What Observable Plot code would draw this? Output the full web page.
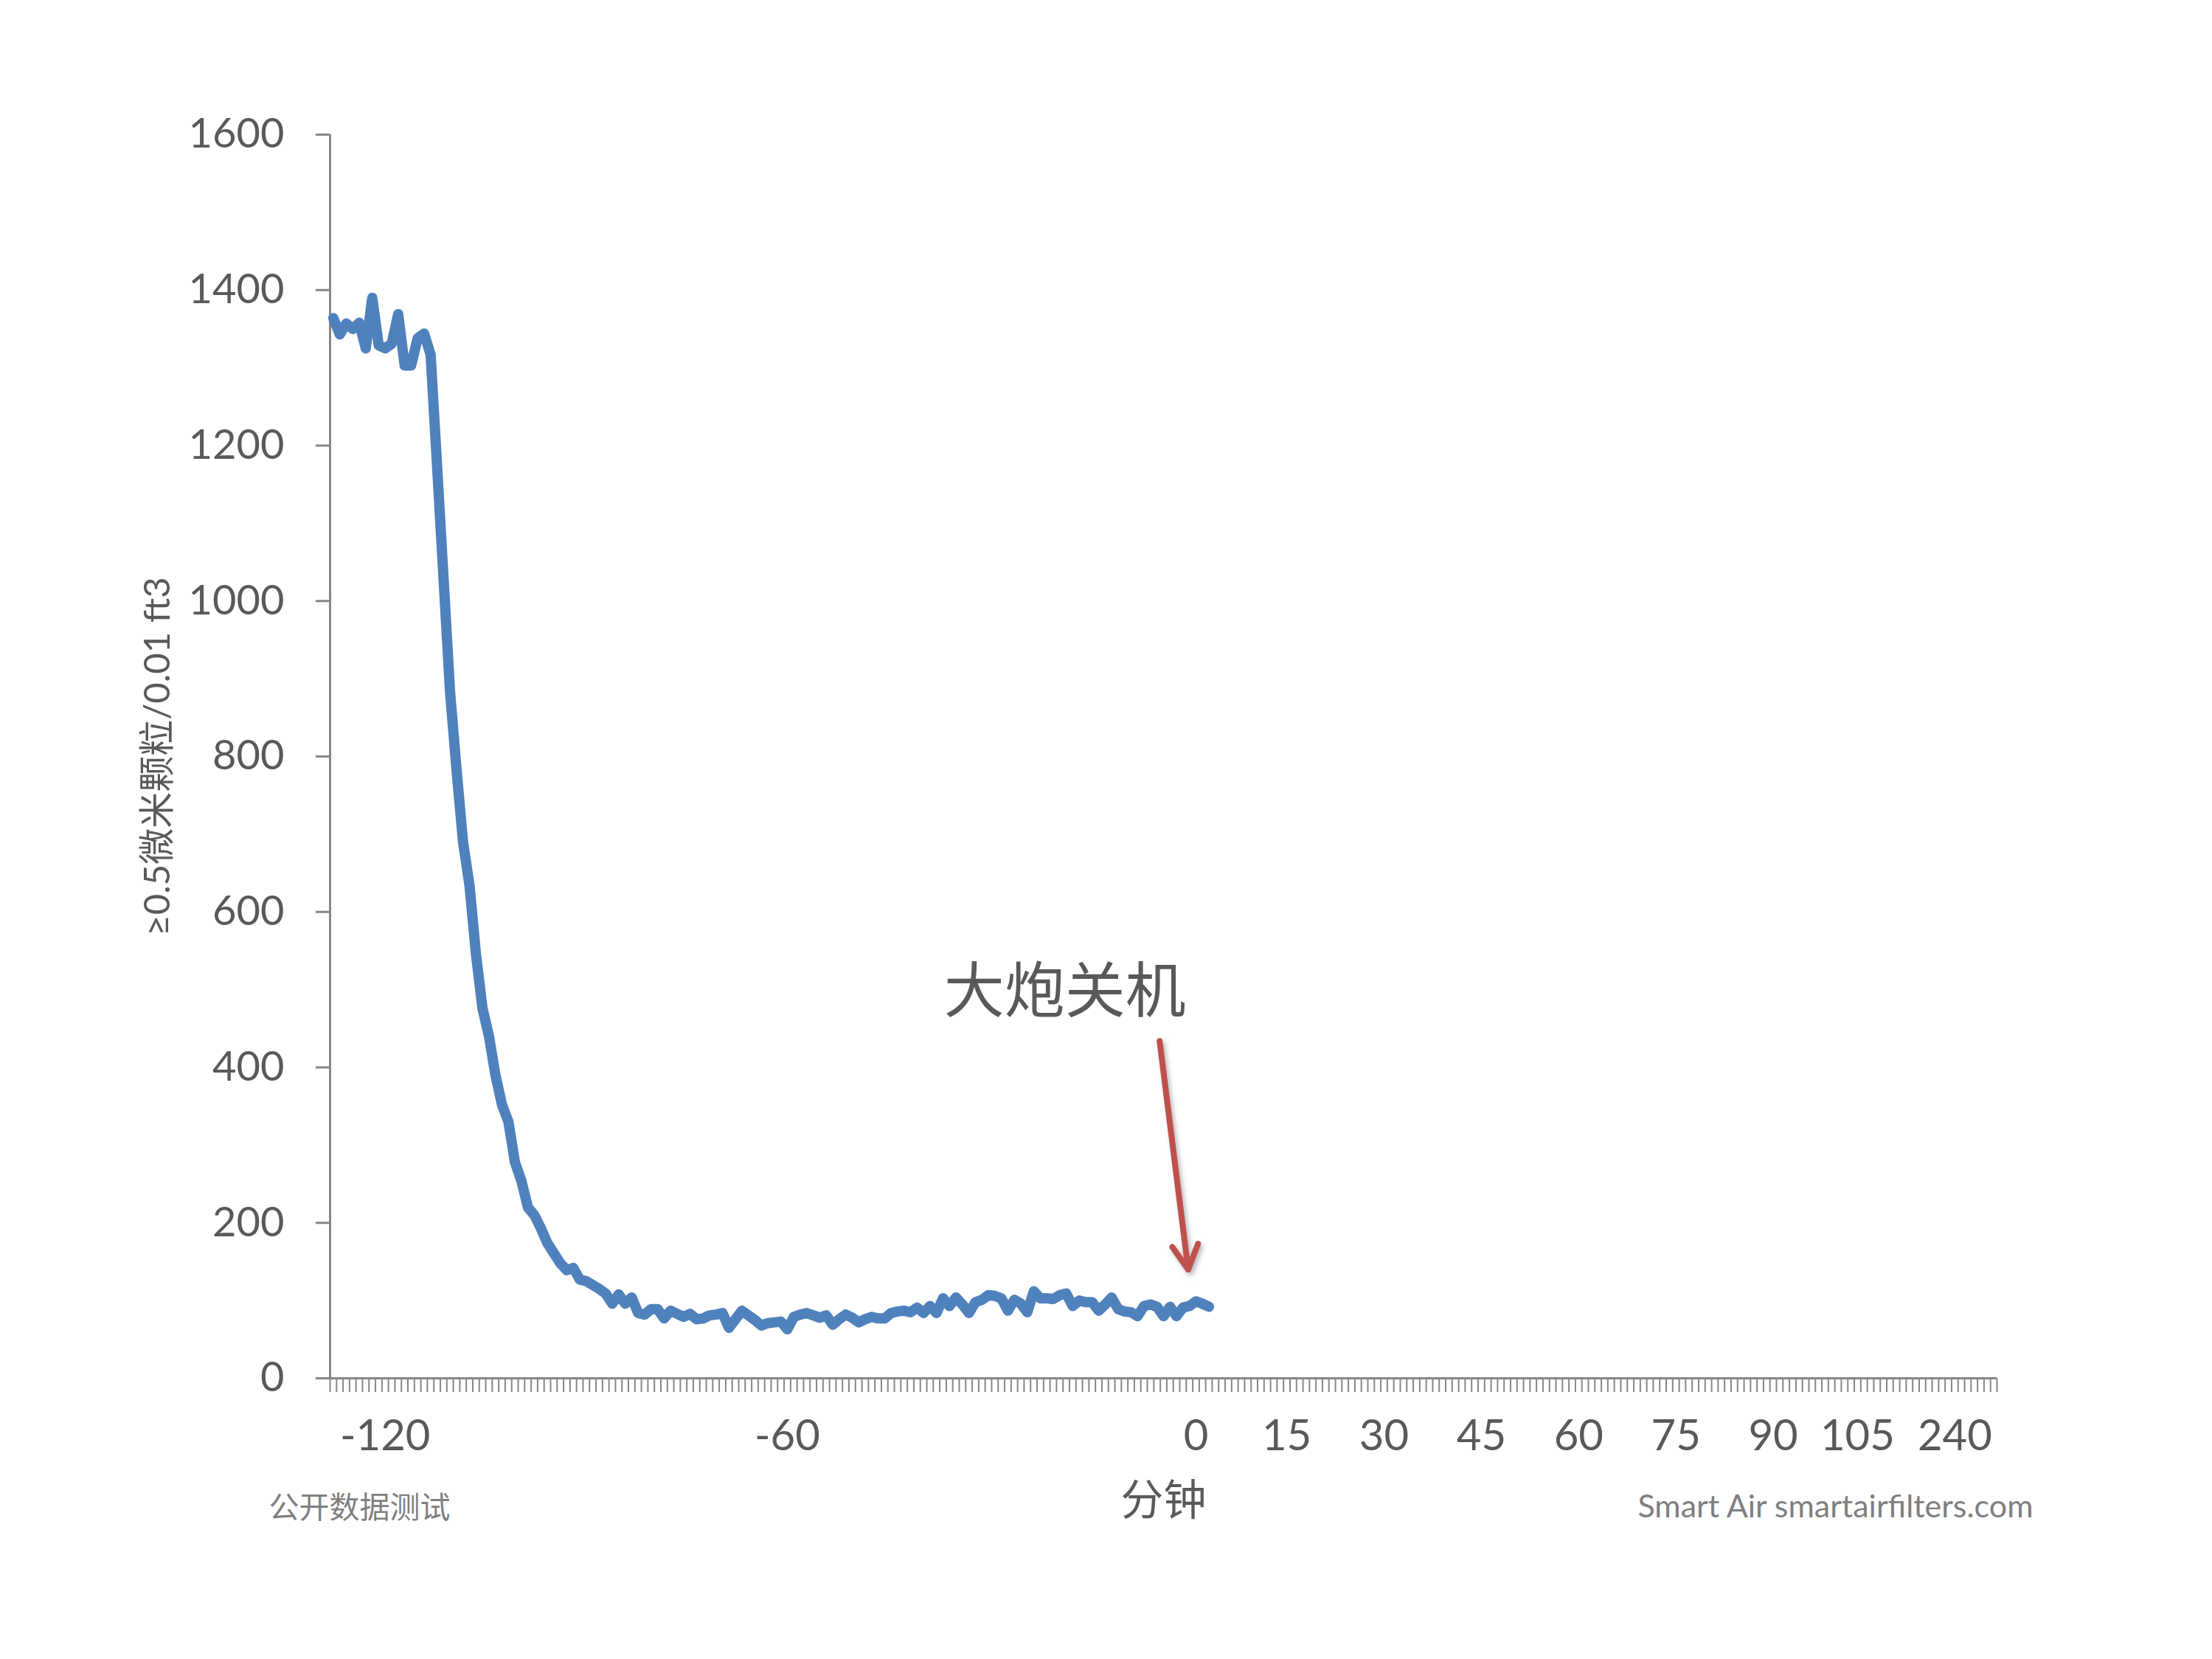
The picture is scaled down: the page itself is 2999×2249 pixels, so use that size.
<!DOCTYPE html>
<html>
<head>
<meta charset="utf-8">
<script src="https://cdn.jsdelivr.net/npm/d3@7"></script>
<script src="https://cdn.jsdelivr.net/npm/@observablehq/plot@0.6"></script>
<style>
html, body { margin: 0; padding: 0; background: #ffffff; overflow: hidden; }
#chart { width: 2999px; height: 2249px; }
</style>
</head>
<body>
<div id="chart"></div>
<script>
// ≥0.5 µm particle counts, one value per category
const counts = [
  1364, 1343, 1357, 1350, 1358, 1325, 1390, 1329, 1325, 1331,
  1369, 1303, 1303, 1338, 1344, 1317, 1174, 1028, 883, 783,
  690, 634, 545, 476, 440, 390, 352, 330, 278, 254,
  220, 210, 193, 174, 161, 148, 139, 142, 127, 125,
  120, 115, 109, 96, 108, 96, 104, 84, 82, 89,
  89, 77, 87, 83, 79, 83, 76, 77, 81, 82,
  84, 65, 76, 87, 81, 75, 68, 71, 72, 73,
  63, 79, 82, 84, 81, 78, 81, 69, 76, 82,
  78, 72, 76, 79, 77, 77, 84, 86, 87, 85,
  91, 84, 93, 84, 103, 93, 104, 95, 84, 98,
  101, 107, 106, 103, 87, 101, 96, 85, 112, 103,
  103, 102, 107, 109, 93, 100, 98, 98, 87, 95,
  104, 89, 86, 85, 80, 93, 95, 92, 80, 92,
  80, 91, 93, 99, 96, 92
];

// category axis: number of categories and which ones carry a label
const categoryCount = 257;
const tickLabelIndex = [8, 70, 133, 147, 162, 177, 192, 207, 222, 235, 250];
const tickLabelText = ["-120", "-60", "0", "15", "30", "45", "60", "75", "90", "105", "240"];

// value axis
const yTicks = [0, 200, 400, 600, 800, 1000, 1200, 1400, 1600];

// texts
const yLabel = "≥0.5微米颗粒/0.01 ft3";
const xLabel = "分钟";
const noteText = "大炮关机";
const sourceLeft = "公开数据测试";
const sourceRight = "Smart Air smartairfilters.com";

// annotation anchors, in data units (category position, count)
const noteAt = [113.3, 496];
const arrowFrom = [127.9, 434];
const arrowTo = [132.3, 140];

const series = counts.map((v, i) => ({cat: i + 0.5, count: v}));
const labelMap = new Map(tickLabelIndex.map((k, j) => [k + 0.5, tickLabelText[j]]));

const font = "Lato, 'Noto Sans CJK SC', 'Noto Sans', sans-serif";
const cjk = "'Noto Sans CJK SC', sans-serif";
const axisGray = "#868686";
const textGray = "#595959";
const lightGray = "#7f7f7f";

const chart = Plot.plot({
  width: 2999,
  height: 2249,
  marginLeft: 447,
  marginRight: 292,
  marginTop: 182,
  marginBottom: 381,
  style: {fontFamily: font, background: "#ffffff", overflow: "visible"},
  x: {type: "linear", domain: [0, categoryCount], axis: null},
  y: {type: "linear", domain: [0, 1600], axis: null},
  marks: [
    Plot.axisX(d3.range(0, categoryCount + 1), {
      anchor: "bottom", tickSize: 19, tickFormat: () => "", stroke: axisGray, strokeWidth: 2, label: null
    }),
    Plot.axisX(tickLabelIndex.map(k => k + 0.5), {
      anchor: "bottom", tickSize: 0, tickPadding: 56, tickFormat: d => labelMap.get(d),
      fontSize: 58, fill: textGray, label: null
    }),
    Plot.axisY(yTicks, {
      anchor: "left", tickSize: 19, tickPadding: 43, fontSize: 56, fill: textGray,
      tickFormat: d => String(d), stroke: axisGray, strokeWidth: 3, label: null
    }),
    Plot.ruleX([0], {y1: 0, y2: 1600, stroke: axisGray, strokeWidth: 3}),
    Plot.ruleY([0], {stroke: axisGray, strokeWidth: 3}),
    Plot.line(series, {
      x: "cat", y: "count", stroke: "#4F81BD", strokeWidth: 14,
      strokeLinejoin: "round", strokeLinecap: "round"
    }),
    Plot.arrow([{x1: arrowFrom[0], y1: arrowFrom[1], x2: arrowTo[0], y2: arrowTo[1]}], {
      x1: "x1", y1: "y1", x2: "x2", y2: "y2",
      stroke: "#C0504D", strokeWidth: 8, headLength: 7, headAngle: 56
    }),
    Plot.text([{x: noteAt[0], y: noteAt[1], t: noteText}], {
      x: "x", y: "y", text: "t", fontSize: 82, fill: textGray, fontFamily: cjk
    }),
    Plot.text([yLabel], {
      frameAnchor: "left", textAnchor: "middle", lineAnchor: "middle",
      rotate: -90, dx: -233, fontSize: 49, fill: textGray
    }),
    Plot.text([xLabel], {
      frameAnchor: "bottom", textAnchor: "middle", lineAnchor: "middle",
      dy: 167, fontSize: 58, fill: textGray, fontFamily: cjk
    }),
    Plot.text([sourceLeft], {
      frameAnchor: "bottom-left", textAnchor: "start", lineAnchor: "middle",
      dx: -83, dy: 176, fontSize: 41, fill: lightGray, fontFamily: cjk
    }),
    Plot.text([sourceRight], {
      frameAnchor: "bottom-right", textAnchor: "end", lineAnchor: "middle",
      dx: 49, dy: 175, fontSize: 43, fill: lightGray
    })
  ]
});

d3.select(chart).selectAll('g[aria-label="arrow"]')
  .style("filter", "drop-shadow(3px 4px 3px rgba(0,0,0,0.28))");

document.getElementById("chart").appendChild(chart);
</script>
</body>
</html>
